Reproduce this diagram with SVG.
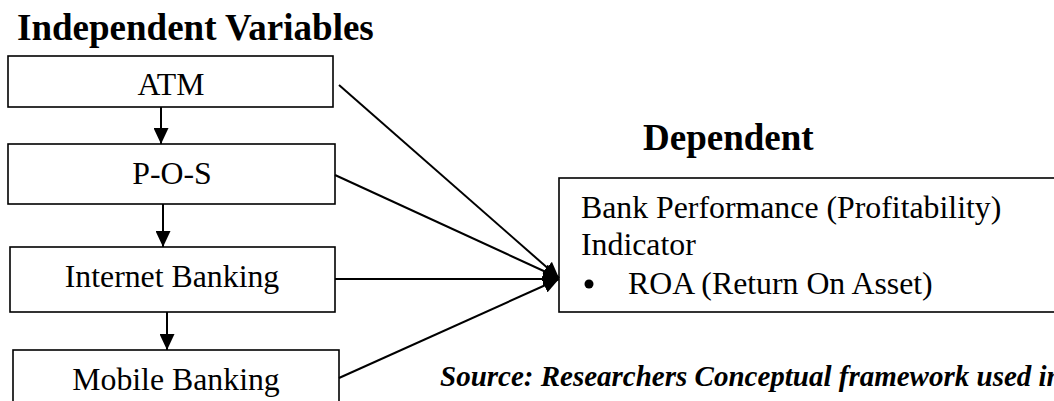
<svg xmlns="http://www.w3.org/2000/svg" width="1054" height="401" viewBox="0 0 1054 401">
<style>
.box{fill:#fff;stroke:#000;stroke-width:1.6}
.t{font-family:"Liberation Serif","Times New Roman",serif;font-size:31.8px;fill:#000}
.h{font-family:"Liberation Serif","Times New Roman",serif;font-size:37px;font-weight:bold;fill:#000}
.src{font-family:"Liberation Serif","Times New Roman",serif;font-size:29px;font-weight:bold;font-style:italic;fill:#000}
.c{stroke:#000;stroke-width:2;fill:none;marker-end:url(#ah)}
</style>
<defs>
<marker id="ah" markerUnits="userSpaceOnUse" markerWidth="16" markerHeight="15" refX="16" refY="7.5" orient="auto">
<path d="M0,0 L16,7.5 L0,15 z" fill="#000"/>
</marker>
</defs>
<rect width="1054" height="401" fill="#fff"/>
<text class="h" x="17" y="40">Independent Variables</text>
<text class="h" x="643" y="150">Dependent</text>
<g id="atm"><rect class="box" x="8" y="56" width="325" height="51"/><text class="t" x="171" y="95" text-anchor="middle">ATM</text></g>
<g id="pos"><rect class="box" x="8" y="144" width="327" height="60"/><text class="t" x="172" y="184" text-anchor="middle">P-O-S</text></g>
<g id="ib"><rect class="box" x="10" y="247" width="325" height="65"/><text class="t" x="172" y="287" text-anchor="middle">Internet Banking</text></g>
<g id="mb"><rect class="box" x="13" y="350" width="326" height="70"/><text class="t" x="176" y="390" text-anchor="middle">Mobile Banking</text></g>
<g id="dep"><rect class="box" x="559" y="178" width="520" height="134"/>
<text class="t" x="581" y="218">Bank Performance (Profitability)</text>
<text class="t" x="581" y="255">Indicator</text>
<circle cx="589" cy="284" r="4.5" fill="#000"/>
<text class="t" x="628" y="294">ROA (Return On Asset)</text></g>
<g id="connectors">
<line class="c" x1="161" y1="107" x2="161" y2="144"/>
<line class="c" x1="163" y1="204" x2="163" y2="247"/>
<line class="c" x1="167" y1="312" x2="167" y2="350"/>
<line class="c" x1="339" y1="85" x2="559" y2="278"/>
<line class="c" x1="335" y1="175" x2="559" y2="278"/>
<line class="c" x1="335" y1="279" x2="559" y2="279"/>
<line class="c" x1="339" y1="378" x2="559" y2="279"/>
</g>
<text class="src" x="440" y="386">Source: Researchers Conceptual framework used in</text>
</svg>
